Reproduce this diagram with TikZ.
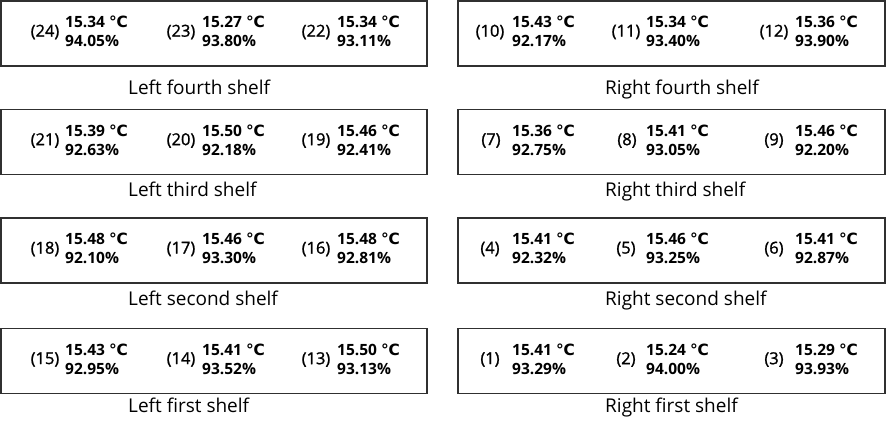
\documentclass[tikz,border=0pt]{standalone}
\usepackage{fontspec}
\usepackage{tikz}
\setmainfont{Open Sans}
\newfontfamily\symfont{DejaVu Sans}
\newfontfamily\tagfont[FakeBold=1.2]{Open Sans}
\usetikzlibrary{positioning}
\definecolor{shelfline}{HTML}{303030}
\newcommand{\degc}{{\symfont\bfseries ℃}}

\begin{document}
\begin{tikzpicture}[
    x=1pt, y=-1pt,
    shelf/.style={rectangle, draw=shelfline, line width=1.2pt, inner sep=0pt, outer sep=0pt, minimum width=#1, minimum height=65pt},
    tag/.style={font=\tagfont\fontsize{16.5}{19}\selectfont, anchor=center, inner sep=0pt},
    reading/.style={font=\fontsize{15.5}{19}\selectfont\bfseries, align=left, anchor=west, inner sep=0pt},
    caption/.style={font=\fontsize{19}{22}\selectfont, anchor=base west, inner sep=0pt}
]
\useasboundingbox (0,0) rectangle (886,422);

% Shelves
\node[shelf=426pt] (lfourth) at (214,33.5) {};
\node[shelf=427pt] (rfourth) at (671.5,33.5) {};
\node[shelf=426pt] (lthird) at (214,142) {};
\node[shelf=427pt] (rthird) at (671.5,142) {};
\node[shelf=426pt] (lsecond) at (214,250.5) {};
\node[shelf=427pt] (rsecond) at (671.5,250.5) {};
\node[shelf=426pt] (lfirst) at (214,361) {};
\node[shelf=427pt] (rfirst) at (671.5,361) {};

% Shelf names
\node[caption] (lfourthname) at (128,95) {Left fourth shelf};
\node[caption] (rfourthname) at (605,95) {Right fourth shelf};
\node[caption] (lthirdname) at (128,197) {Left third shelf};
\node[caption] (rthirdname) at (605,197) {Right third shelf};
\node[caption] (lsecondname) at (128,305) {Left second shelf};
\node[caption] (rsecondname) at (605,305) {Right second shelf};
\node[caption] (lfirstname) at (128,412) {Left first shelf};
\node[caption] (rfirstname) at (605,412) {Right first shelf};

% Left fourth shelf
\node[tag] (t24) at (45,32) {(24)};
\node[reading] (r24) at (65,31.5) {15.34 \degc\\94.05\%};
\node[tag] (t23) at (181,32) {(23)};
\node[reading] (r23) at (202,31.5) {15.27 \degc\\93.80\%};
\node[tag] (t22) at (316,32) {(22)};
\node[reading] (r22) at (337,31.5) {15.34 \degc\\93.11\%};

% Right fourth shelf
\node[tag] (t10) at (490,32) {(10)};
\node[reading] (r10) at (512,31.5) {15.43 \degc\\92.17\%};
\node[tag] (t11) at (626,32) {(11)};
\node[reading] (r11) at (646,31.5) {15.34 \degc\\93.40\%};
\node[tag] (t12) at (774,32) {(12)};
\node[reading] (r12) at (795,31.5) {15.36 \degc\\93.90\%};

% Left third shelf
\node[tag] (t21) at (45,140.5) {(21)};
\node[reading] (r21) at (65,140) {15.39 \degc\\92.63\%};
\node[tag] (t20) at (181,140.5) {(20)};
\node[reading] (r20) at (202,140) {15.50 \degc\\92.18\%};
\node[tag] (t19) at (316,140.5) {(19)};
\node[reading] (r19) at (337,140) {15.46 \degc\\92.41\%};

% Right third shelf
\node[tag] (t7) at (491,140.5) {(7)};
\node[reading] (r7) at (512,140) {15.36 \degc\\92.75\%};
\node[tag] (t8) at (627,140.5) {(8)};
\node[reading] (r8) at (646,140) {15.41 \degc\\93.05\%};
\node[tag] (t9) at (774,140.5) {(9)};
\node[reading] (r9) at (795,140) {15.46 \degc\\92.20\%};

% Left second shelf
\node[tag] (t18) at (45,249) {(18)};
\node[reading] (r18) at (65,248.5) {15.48 \degc\\92.10\%};
\node[tag] (t17) at (181,249) {(17)};
\node[reading] (r17) at (202,248.5) {15.46 \degc\\93.30\%};
\node[tag] (t16) at (316,249) {(16)};
\node[reading] (r16) at (337,248.5) {15.48 \degc\\92.81\%};

% Right second shelf
\node[tag] (t4) at (490,249) {(4)};
\node[reading] (r4) at (512,248.5) {15.41 \degc\\92.32\%};
\node[tag] (t5) at (626,249) {(5)};
\node[reading] (r5) at (646,248.5) {15.46 \degc\\93.25\%};
\node[tag] (t6) at (774,249) {(6)};
\node[reading] (r6) at (795,248.5) {15.41 \degc\\92.87\%};

% Left first shelf
\node[tag] (t15) at (45,359.5) {(15)};
\node[reading] (r15) at (65,359) {15.43 \degc\\92.95\%};
\node[tag] (t14) at (181,359.5) {(14)};
\node[reading] (r14) at (202,359) {15.41 \degc\\93.52\%};
\node[tag] (t13) at (316,359.5) {(13)};
\node[reading] (r13) at (337,359) {15.50 \degc\\93.13\%};

% Right first shelf
\node[tag] (t1) at (490,359.5) {(1)};
\node[reading] (r1) at (512,359) {15.41 \degc\\93.29\%};
\node[tag] (t2) at (626,359.5) {(2)};
\node[reading] (r2) at (646,359) {15.24 \degc\\94.00\%};
\node[tag] (t3) at (774,359.5) {(3)};
\node[reading] (r3) at (795,359) {15.29 \degc\\93.93\%};

\end{tikzpicture}
\end{document}
